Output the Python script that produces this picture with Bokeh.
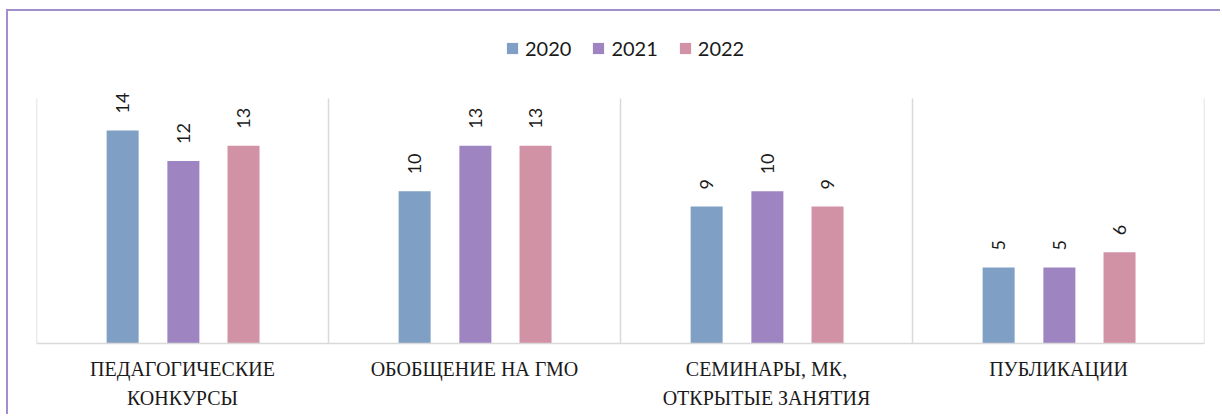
import math
from bokeh.plotting import figure
from bokeh.models import (ColumnDataSource, Range1d, FixedTicker,
                          Legend, LegendItem, InlineStyleSheet)
from bokeh.transform import dodge
from bokeh.core.properties import value
from bokeh.embed import file_html
from bokeh.resources import INLINE

# ---- data ----
categories = ["ПЕДАГОГИЧЕСКИЕ\nКОНКУРСЫ", "ОБОБЩЕНИЕ НА ГМО",
              "СЕМИНАРЫ, МК,\nОТКРЫТЫЕ ЗАНЯТИЯ", "ПУБЛИКАЦИИ"]
years = ["2020", "2021", "2022"]
v2020 = [14, 10, 9, 5]
v2021 = [12, 13, 10, 5]
v2022 = [13, 13, 9, 6]
axis_max = 16.1

colors = ["#7f9fc4", "#9e85c1", "#d192a6"]
offsets = [-0.205, 0.003, 0.209]

n = len(categories)
centers = [i + 0.5 for i in range(n)]
src = ColumnDataSource(dict(
    xc=centers,
    y2020=v2020, y2021=v2021, y2022=v2022,
    l2020=[str(v) for v in v2020],
    l2021=[str(v) for v in v2021],
    l2022=[str(v) for v in v2022],
))

p = figure(x_range=Range1d(0, n), y_range=Range1d(0, 20.57),
           width=1214, height=405, output_backend="svg", title=None,
           toolbar_location=None, y_axis_location=None,
           min_border_left=28, min_border_right=18,
           min_border_top=19, min_border_bottom=73)
p.styles = {"border-top": "2px solid #a18ecb", "border-left": "2px solid #a18ecb",
            "margin-left": "6px", "margin-top": "9px"}
p.stylesheets = [InlineStyleSheet(
    css='text[font-family*="Serif"] { letter-spacing: 4px; }')]
p.outline_line_color = None
p.background_fill_color = "white"
p.border_fill_color = "white"
p.grid.visible = False

# category separator lines (plot-area verticals)
bounds = list(range(n + 1))
p.segment(x0=bounds, y0=[0] * (n + 1), x1=bounds, y1=[axis_max] * (n + 1),
          line_color="#d9d9d9", line_width=1.5)

items = []
for yr, col, off in zip(years, colors, offsets):
    r = p.vbar(x=dodge("xc", off), top="y" + yr, width=0.1096,
               source=src, fill_color=col, line_color=None)
    p.text(x=dodge("xc", off), y="y" + yr, text="l" + yr,
           source=src, angle=math.pi / 2, text_align="left", text_baseline="middle",
           y_offset=-17, text_font=value("Lato"), text_font_size="18px",
           text_color="#1a1a1a")
    items.append(LegendItem(label=yr, renderers=[r]))

legend = Legend(items=items, orientation="horizontal", location=(469, 283),
                glyph_width=14, glyph_height=14, label_standoff=6, spacing=20,
                padding=0, margin=0, border_line_color=None,
                background_fill_alpha=0,
                label_text_font="Lato", label_text_font_size="20px",
                label_text_color="#1a1a1a")
p.add_layout(legend)

ax = p.xaxis[0]
ax.ticker = FixedTicker(ticks=centers)
ax.major_label_overrides = {c: lab for c, lab in zip(centers, categories)}
ax.axis_line_color = "#d9d9d9"
ax.axis_line_width = 1.5
ax.major_tick_line_color = None
ax.minor_tick_line_color = None
ax.major_label_text_font = "Liberation Serif"
ax.major_label_text_font_size = "20px"
ax.major_label_text_color = "#1a1a1a"
ax.major_label_text_line_height = 1.35
ax.major_label_standoff = 8

open("out.html", "w").write(file_html(p, INLINE))
